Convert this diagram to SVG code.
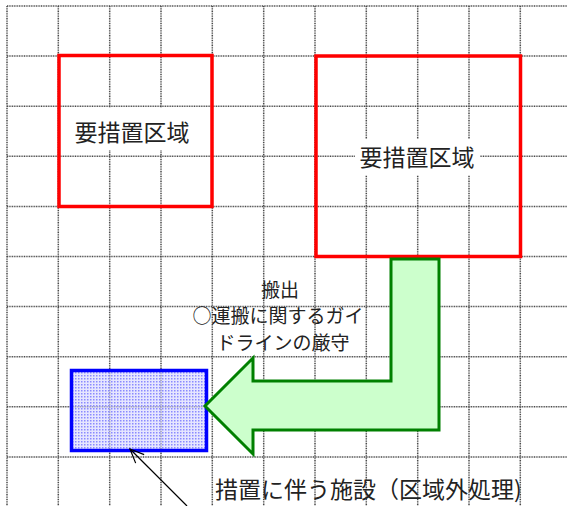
<svg xmlns="http://www.w3.org/2000/svg" width="567" height="506" viewBox="0 0 567 506">
<defs>
<style>
.grid line{stroke:#4a4a4a;stroke-width:1.5;stroke-dasharray:1,0.7}
.zone{fill:none;stroke:#ff0000;stroke-width:3.5}
.t{font-family:"Noto Sans CJK JP","Noto Sans CJK SC",sans-serif;fill:#222}
</style>
<pattern id="dots" width="3" height="3" patternUnits="userSpaceOnUse">
<rect width="3" height="3" fill="#d6d6ff" fill-opacity="0.6"/>
<rect width="1.5" height="1.5" fill="#6b6bff" fill-opacity="0.75"/>
</pattern>
<marker id="open" markerWidth="16" markerHeight="16" refX="15" refY="8" orient="auto" markerUnits="userSpaceOnUse">
<path d="M1,2 L15,8 L1,14" fill="none" stroke="#000" stroke-width="1.2"/>
</marker>
</defs>
<rect width="567" height="506" fill="#fff"/>
<g class="grid" id="grid">
<line x1="7" y1="6" x2="7" y2="506"/>
<line x1="58.3" y1="6" x2="58.3" y2="506"/>
<line x1="109.7" y1="6" x2="109.7" y2="506"/>
<line x1="161" y1="6" x2="161" y2="506"/>
<line x1="212.3" y1="6" x2="212.3" y2="506"/>
<line x1="263.7" y1="6" x2="263.7" y2="506"/>
<line x1="315" y1="6" x2="315" y2="506"/>
<line x1="366.3" y1="6" x2="366.3" y2="506"/>
<line x1="417.7" y1="6" x2="417.7" y2="506"/>
<line x1="469" y1="6" x2="469" y2="506"/>
<line x1="520.3" y1="6" x2="520.3" y2="506"/>
<line x1="7" y1="6" x2="567" y2="6"/>
<line x1="7" y1="56.1" x2="567" y2="56.1"/>
<line x1="7" y1="106.2" x2="567" y2="106.2"/>
<line x1="7" y1="156.3" x2="567" y2="156.3"/>
<line x1="7" y1="206.4" x2="567" y2="206.4"/>
<line x1="7" y1="256.5" x2="567" y2="256.5"/>
<line x1="7" y1="306.6" x2="567" y2="306.6"/>
<line x1="7" y1="356.7" x2="567" y2="356.7"/>
<line x1="7" y1="406.8" x2="567" y2="406.8"/>
<line x1="7" y1="456.9" x2="567" y2="456.9"/>
</g>
<g id="zone1">
<rect x="61" y="108" width="149" height="42" fill="#fff"/>
<rect class="zone" x="59" y="55.5" width="153" height="151"/>
<text class="t" x="132" y="141" font-size="23" text-anchor="middle">要措置区域</text>
</g>
<g id="zone2">
<rect class="zone" x="316" y="56" width="204.5" height="200.5"/>
<rect x="355" y="139" width="125" height="36" fill="#fff"/>
<text class="t" x="417" y="166" font-size="23" text-anchor="middle">要措置区域</text>
</g>
<g id="facility">
<rect x="71.5" y="370.5" width="135" height="80" fill="url(#dots)" stroke="#0000ff" stroke-width="3.5"/>
</g>
<g id="transport-arrow">
<polygon points="391,259 439,259 439,430 253,430 253,454 205,406 253,358 253,381 391,381" fill="#ccffcc" stroke="#008000" stroke-width="3" stroke-linejoin="miter"/>
</g>
<g id="transport-label">
<text class="t" font-size="19" text-anchor="middle"><tspan x="280" y="296.5">搬出</tspan><tspan x="278" y="323">○運搬に関するガイ</tspan><tspan x="283" y="349.5">ドラインの厳守</tspan></text>
</g>
<g id="connectors">
<line x1="187" y1="506" x2="130" y2="449" stroke="#000" stroke-width="1.2" marker-end="url(#open)"/>
</g>
<g id="facility-label">
<text class="t" x="215" y="498" font-size="23">措置に伴う施設（区域外処理)</text>
</g>
</svg>
